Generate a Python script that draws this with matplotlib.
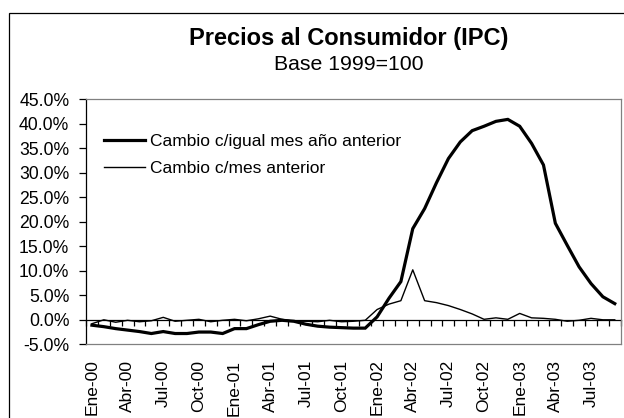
import matplotlib
matplotlib.use("Agg")
import matplotlib.pyplot as plt
from matplotlib.patches import Rectangle
from matplotlib.ticker import FuncFormatter, FixedLocator

plt.rcParams['font.family'] = ['Liberation Sans', 'DejaVu Sans']

# ---- data ----
months = ["Ene", "Feb", "Mar", "Abr", "May", "Jun", "Jul", "Ago", "Sep", "Oct", "Nov", "Dic"]
years = ["00", "01", "02", "03"]
categories = [f"{m}-{y}" for y in years for m in months][:45]   # Ene-00 .. Sep-03

yoy_change = [
    -1.1, -1.4, -1.8, -2.1, -2.4, -2.8, -2.4, -2.8, -2.8, -2.5, -2.5, -2.8,
    -1.8, -1.8, -1.0, -0.3, -0.1, -0.3, -0.9, -1.3, -1.5, -1.6, -1.7, -1.7,
    0.6, 4.4, 7.8, 18.6, 22.7, 28.0, 32.9, 36.3, 38.6, 39.5, 40.5, 40.9,
    39.5, 36.0, 31.6, 19.7, 15.2, 10.8, 7.4, 4.7, 3.3,
]
mom_change = [
    -0.8, 0.0, -0.5, -0.1, -0.4, -0.2, 0.5, -0.3, -0.1, 0.1, -0.4, -0.1,
    0.1, -0.2, 0.2, 0.75, 0.1, -0.3, -0.3, -0.4, -0.1, -0.4, -0.3, -0.1,
    2.1, 3.2, 3.9, 10.2, 3.9, 3.5, 2.9, 2.1, 1.2, 0.1, 0.4, 0.1,
    1.3, 0.4, 0.3, 0.1, -0.3, -0.1, 0.3, 0.0, 0.0,
]
series_names = ["Cambio c/igual mes año anterior", "Cambio c/mes anterior"]
title = "Precios al Consumidor (IPC)"
subtitle = "Base 1999=100"
y_ticks = [-5, 0, 5, 10, 15, 20, 25, 30, 35, 40, 45]

# ---- figure ----
W, H = 624, 418
fig = plt.figure(figsize=(W / 100, H / 100), dpi=100)
fig.patch.set_facecolor("white")

# outer chart border
fig.patches.append(Rectangle((8.5 / W, -0.2), 1.3, 1.2 - 13 / H, transform=fig.transFigure,
                             fill=False, edgecolor="black", linewidth=0.9, clip_on=False))

left, right, top, bottom = 86 / W, 620.7 / W, 1 - 99.3 / H, 1 - 344.3 / H
ax = fig.add_axes([left, bottom, right - left, top - bottom])

x = list(range(len(categories)))
ax.plot(x, yoy_change, color="black", linewidth=2.3, label=series_names[0], solid_joinstyle="miter")
ax.plot(x, mom_change, color="black", linewidth=1.0, label=series_names[1])

ax.set_xlim(-0.5, len(categories) - 0.5)
ax.set_ylim(-5, 45)

# y axis
ax.set_yticks(y_ticks)
ax.yaxis.set_major_formatter(FuncFormatter(lambda v, p: f"{v:.1f}%"))
ax.tick_params(axis="y", direction="out", length=5, width=0.9, pad=7, labelsize=12.7)

# x labels at the bottom, every 3rd category, no tick marks
ax.set_xticks(x[::3])
ax.set_xticklabels(categories[::3], rotation=90, fontsize=12.5)
ax.tick_params(axis="x", length=0, pad=11)

# spines
for s in ["top", "right", "bottom"]:
    ax.spines[s].set_color("#808080")
    ax.spines[s].set_linewidth(0.9)
ax.spines["left"].set_color("black")
ax.spines["left"].set_linewidth(0.9)

# category axis crossing at 0 with tick marks between categories
sec = ax.secondary_xaxis(5 / 50)
sec.spines["bottom"].set_color("black")
sec.spines["bottom"].set_linewidth(0.9)
sec.xaxis.set_major_locator(FixedLocator([i - 0.5 for i in range(len(categories) + 1)]))
sec.tick_params(axis="x", direction="out", length=4, width=0.9, labelbottom=False)

leg = ax.legend(loc="upper left", bbox_to_anchor=(18 / 534.7, 1 - 35 / 245), frameon=False,
                fontsize=12.5, handlelength=2.36, handletextpad=0.3, labelspacing=0.66,
                borderaxespad=0, borderpad=0)

fig.text(349 / W, 1 - 38 / H, title, ha="center", va="center", fontsize=17, fontweight="bold")
fig.text(349 / W, 1 - 65 / H, subtitle, ha="center", va="center", fontsize=15.3)

fig.savefig("out.png", dpi=100)
